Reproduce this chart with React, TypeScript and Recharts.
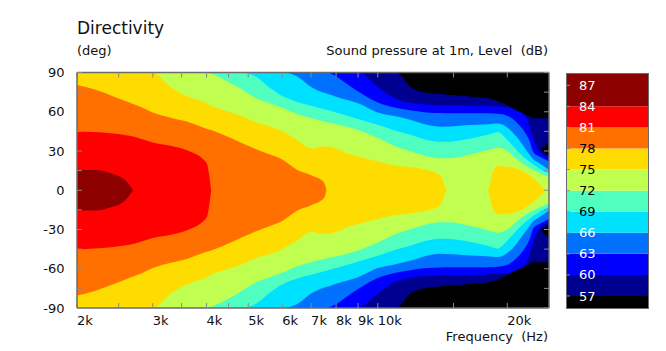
import {
  Area,
  AreaChart,
  Bar,
  BarChart,
  CartesianGrid,
  XAxis,
  YAxis
} from "recharts";

const freqs = [
  2000, 2200, 2400, 2600, 2700, 2800, 3000, 3300, 3600, 4000, 4100, 4400, 4800, 5200, 5600,
  6000, 6500, 7000, 7500, 7600, 8000, 8500, 9000, 10000, 11000, 12000, 13000, 14000, 14500,
  15000, 16000, 17000, 18000, 18500, 19000, 20000, 21000, 22000, 22500, 23000, 23500, 24000,
  24500, 25000
];

// half-angle (deg) inside which the level is at or above the band's lower bound
const deg57 = [
  90, 90, 90, 90, 90, 90, 90, 90, 90, 90, 90, 90, 90, 90, 90, 90, 90, 90, 90, 90, 90, 90, 90, 90, 90,
  78, 74.5, 73.5, 73, 72.7, 72, 71, 70.5, 69.5, 68, 65, 61, 58, 56.5, 55, 55, 55, 55, 55
];
const deg60 = [
  90, 90, 90, 90, 90, 90, 90, 90, 90, 90, 90, 90, 90, 90, 90, 90, 90, 90, 90, 90, 90, 90, 90,
  79, 70, 66.5, 65.5, 65, 65, 65, 64.8, 64.5, 64.3, 64, 64, 63.5, 61, 57, 50, 39, 32, 28, 26, 24.4
];
const deg63 = [
  90, 90, 90, 90, 90, 90, 90, 90, 90, 90, 90, 90, 90, 90, 90, 90, 90, 90, 90, 90,
  87, 81, 75.5, 67, 63, 61, 59.5, 59, 58.8, 58.8, 58.8, 58.8, 58.8, 58.7, 58.5, 57, 52, 44, 38, 29,
  26.5, 25, 23.5, 22
];
const deg66 = [
  90, 90, 90, 90, 90, 90, 90, 90, 90, 90, 90, 90, 90, 90, 90, 90,
  87, 79, 74.5, 74, 71.5, 69, 66.5, 59.5, 56.5, 53.5, 50, 48.5, 48.8, 49, 49.6, 50, 50.5, 50.8, 51,
  48, 41, 32, 27.5, 23.5, 21.5, 19.5, 17.5, 15.5
];
const deg69 = [
  90, 90, 90, 90, 90, 90, 90, 90, 90, 90, 90, 90, 90,
  87, 78.5, 72, 67.5, 64.5, 62, 61.5, 59.5, 57, 54.5, 50, 45.5, 42, 38.5, 37, 37, 37.5, 38.8, 40.5,
  42.5, 43.5, 44.5, 38.5, 31, 24.5, 22, 19.5, 17.5, 15.5, 14, 13
];
const deg72 = [
  90, 90, 90, 90, 90, 90, 90, 90, 90, 90,
  89, 84.5, 77.5, 70.5, 66.5, 63, 58, 55, 52.5, 52, 50.5, 48.5, 46, 40, 33.5, 29.5, 26, 24.4, 24.4,
  24.6, 26.5, 28.5, 30.5, 31.5, 32.5, 30, 24, 19, 17, 15.5, 14, 12.5, 11, 10
];
const deg75 = [
  90, 90, 90, 90, 90, 90, 90,
  79, 72, 66.5, 64.5, 61, 57, 52, 49, 45, 38.5, 32, 33.5, 33.5, 32, 28, 26, 22, 19, 17.5, 15.5, 11,
  0, 0, 0, 0, 0, 14, 18.5, 18, 16.5, 13.5, 11.5, 9, 6.5, 3.5, 0, 0
];
const deg78 = [80.5, 77, 72.5, 68, 66, 64, 59.5, 55.5, 52.5, 47, 46, 42, 36.5, 31.5, 27.5, 23.5, 15.5, 11.5, 6, 0];
const deg81 = [45, 44.5, 43.5, 42, 41, 39.5, 36.5, 34, 30.5, 21, 0];
const deg84 = [15.5, 15.5, 13, 7, 0];

// black notches near +-30 deg at the top end
const notchFreqs = [24000, 24500, 25000];
const notchLo = [30.5, 28.5, 26];
const notchHi = [31.5, 34, 37];

const levels = [57, 60, 63, 66, 69, 72, 75, 78, 81, 84];
const levelAngles = [deg57, deg60, deg63, deg66, deg69, deg72, deg75, deg78, deg81, deg84];
const levelColors = [
  "#000090", "#0000ff", "#0070ff", "#00e0ff", "#50ffc0",
  "#c0ff50", "#ffdc00", "#ff7000", "#ff0000", "#8c0000"
];

const freqTicks = [2000, 2500, 3000, 3500, 4000, 4500, 5000, 6000, 7000, 8000, 9000, 10000, 15000, 20000];
const freqLabels = [2000, 3000, 4000, 5000, 6000, 7000, 8000, 9000, 10000, 20000];
const degTicks = [-90, -75, -60, -45, -30, -15, 0, 15, 30, 45, 60, 75, 90];

const scaleTicks = [57, 60, 63, 66, 69, 72, 75, 78, 81, 84, 87];
const scaleMin = 55.15;
const scaleMax = 88.75;
const darkLabels = [69, 72, 75, 78];

const FONT = "'DejaVu Sans', Verdana, sans-serif";

const rows = freqs.map((f, i) => {
  const row: Record<string, unknown> = { f };
  levels.forEach((lv, k) => {
    const a = levelAngles[k][i];
    row[`l${lv}`] = a == null ? null : [-a, a];
  });
  const n = notchFreqs.indexOf(f);
  row.notchUp = n < 0 ? null : [notchLo[n], notchHi[n]];
  row.notchDown = n < 0 ? null : [-notchHi[n], -notchLo[n]];
  return row;
});

// colour scale: one stacked column, black below 57 then one band per level
const scaleEdges = [0, ...levels, scaleMax];
const scaleColors = ["#000000", ...levelColors];
const scaleRow: Record<string, unknown> = { k: "dB" };
scaleColors.forEach((_, i) => {
  scaleRow[`b${i}`] = scaleEdges[i + 1] - scaleEdges[i];
});
const scaleRows = [scaleRow];

function FreqTick(props: any) {
  const { x, y, payload } = props;
  if (!freqLabels.includes(payload.value)) return <g />;
  return (
    <text x={x} y={y + 17} textAnchor="start" fontSize={13} fontFamily={FONT} fill="#111">
      {`${payload.value / 1000}k`}
    </text>
  );
}

function DegTick(props: any) {
  const { x, y, payload } = props;
  if (payload.value % 30 !== 0) return <g />;
  return (
    <text x={x - 12.5} y={y + 4.5} textAnchor="end" fontSize={13} fontFamily={FONT} fill="#111">
      {payload.value}
    </text>
  );
}

function ScaleTick(props: any) {
  const { x, y, payload } = props;
  const dark = darkLabels.includes(payload.value);
  return (
    <text x={x} y={y + 4.5} textAnchor="start" fontSize={13} fontFamily={FONT} fill={dark ? "#000" : "#fff"}>
      {payload.value}
    </text>
  );
}

function NoTick() {
  return <g />;
}

function renderBand(lv: number, k: number) {
  return (
    <Area
      key={lv}
      type="monotone"
      dataKey={`l${lv}`}
      fill={levelColors[k]}
      fillOpacity={1}
      stroke="none"
      dot={false}
      activeDot={false}
      isAnimationActive={false}
    />
  );
}

const axisLine = { stroke: "#6b6b6b", strokeWidth: 1.5 };
const tickLine = { stroke: "#8a8a8a" };

// the contour fills, axes hidden (they only provide the scales)
function ContourChart() {
  return (
    <AreaChart width={666} height={351} data={rows} margin={{ top: 72.5, right: 117, bottom: 43, left: 77 }}>
      <CartesianGrid fill="#000" stroke="none" horizontal={false} vertical={false} />
      {renderBand(57, 0)}
      <Area type="monotone" dataKey="notchUp" fill="#000" fillOpacity={1} stroke="none" dot={false} activeDot={false} isAnimationActive={false} />
      <Area type="monotone" dataKey="notchDown" fill="#000" fillOpacity={1} stroke="none" dot={false} activeDot={false} isAnimationActive={false} />
      {levels.slice(1).map((lv, k) => renderBand(lv, k + 1))}
      <XAxis dataKey="f" type="number" scale="log" domain={[2000, 25000]} allowDataOverflow hide />
      <YAxis type="number" domain={[-90, 90]} allowDataOverflow hide />
    </AreaChart>
  );
}

// frame, inward ticks and labels drawn over the fills
function FrameChart() {
  return (
    <AreaChart width={666} height={351} data={rows} margin={{ top: 71.5, right: 116, bottom: 13, left: 37 }}>
      <Area type="monotone" dataKey="l57" fillOpacity={0} stroke="none" dot={false} activeDot={false} isAnimationActive={false} />
      <Area xAxisId="top" yAxisId="right" type="monotone" dataKey="l57" fillOpacity={0} stroke="none" dot={false} activeDot={false} isAnimationActive={false} />
      <XAxis
        dataKey="f"
        type="number"
        scale="log"
        domain={[2000, 25000]}
        allowDataOverflow
        ticks={freqTicks}
        interval={0}
        tickSize={-5}
        tickMargin={5}
        tickLine={tickLine}
        axisLine={axisLine}
        tick={<FreqTick />}
        height={30}
      />
      <XAxis
        xAxisId="top"
        orientation="top"
        dataKey="f"
        type="number"
        scale="log"
        domain={[2000, 25000]}
        allowDataOverflow
        ticks={freqTicks}
        interval={0}
        tickSize={-5}
        tickLine={tickLine}
        axisLine={axisLine}
        tick={<NoTick />}
        height={1}
      />
      <YAxis
        type="number"
        domain={[-90, 90]}
        allowDataOverflow
        ticks={degTicks}
        interval={0}
        tickSize={-5}
        tickMargin={5}
        tickLine={tickLine}
        axisLine={axisLine}
        tick={<DegTick />}
        width={40}
      />
      <YAxis
        yAxisId="right"
        orientation="right"
        type="number"
        domain={[-90, 90]}
        allowDataOverflow
        ticks={degTicks}
        interval={0}
        tickSize={-5}
        tickLine={tickLine}
        axisLine={axisLine}
        tick={<NoTick />}
        width={1}
      />
    </AreaChart>
  );
}

// colour bands of the level scale
function ScaleBands() {
  return (
    <BarChart width={83} height={236} data={scaleRows} margin={{ top: 0, right: 0, bottom: 0, left: 0 }} barCategoryGap={0}>
      <XAxis dataKey="k" hide />
      <YAxis type="number" domain={[scaleMin, scaleMax]} allowDataOverflow hide />
      {scaleColors.map((c, i) => (
        <Bar key={c} dataKey={`b${i}`} stackId="scale" fill={c} isAnimationActive={false} />
      ))}
    </BarChart>
  );
}

// level labels: a right-hand axis whose tick side lies over the bands
function ScaleLabels() {
  return (
    <BarChart width={93} height={236} data={scaleRows} margin={{ top: 0, right: 0, bottom: 0, left: 0 }} barCategoryGap={0}>
      <XAxis dataKey="k" hide />
      <Bar dataKey="b1" fillOpacity={0} isAnimationActive={false} />
      <YAxis
        orientation="right"
        type="number"
        domain={[scaleMin, scaleMax]}
        allowDataOverflow
        ticks={scaleTicks}
        interval={0}
        width={83}
        tickSize={4}
        tickMargin={9}
        tickLine={{ stroke: "#7a9ab0" }}
        axisLine={false}
        tick={<ScaleTick />}
      />
    </BarChart>
  );
}

export default function App() {
  const layer = { position: "absolute" as const, left: 0, top: 0 };
  return (
    <div style={{ position: "absolute", left: 0, top: 0, width: 666, height: 351, background: "#fff" }}>
      <div style={layer}>
        <ContourChart />
      </div>
      <div style={layer}>
        <FrameChart />
      </div>

      <div style={{ position: "absolute", left: 566, top: 72.5, width: 83, height: 236 }}>
        <ScaleBands />
      </div>
      <div style={{ position: "absolute", left: 556, top: 72.5 }}>
        <ScaleLabels />
      </div>
      <div
        style={{
          position: "absolute",
          left: 566,
          top: 72.5,
          width: 83,
          height: 236,
          boxSizing: "border-box",
          border: "1.5px solid #6b6b6b",
          pointerEvents: "none"
        }}
      />

      <svg width={666} height={351} style={{ ...layer, pointerEvents: "none" }}>
        <g fontFamily={FONT} fill="#111">
          <text x={77} y={34} fontSize={17}>Directivity</text>
          <text x={77} y={55} fontSize={13}>(deg)</text>
          <text x={548} y={55} fontSize={13} textAnchor="end">{"Sound pressure at 1m, Level\u00a0\u00a0(dB)"}</text>
          <text x={548} y={341} fontSize={13} textAnchor="end">{"Frequency\u00a0\u00a0(Hz)"}</text>
        </g>
      </svg>
    </div>
  );
}
